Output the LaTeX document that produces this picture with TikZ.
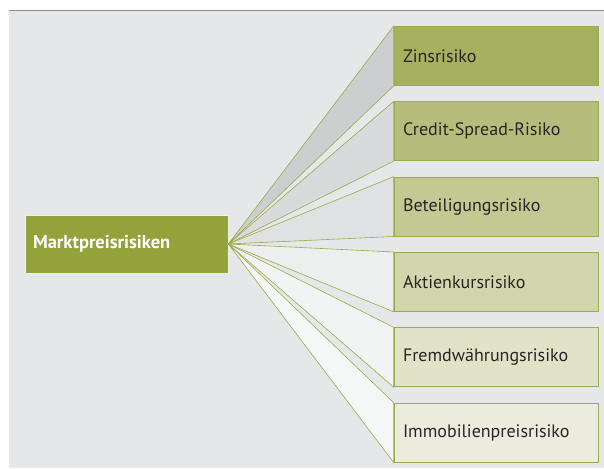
\documentclass[tikz,border=0pt]{standalone}
\usepackage{fontspec}
\setmainfont{PT Sans}
\definecolor{hg}{HTML}{E6E7E8}
\definecolor{linie}{HTML}{8C8C8C}
\definecolor{oliv}{HTML}{9DAA48}
\definecolor{markt}{HTML}{94A23A}
\definecolor{b1}{HTML}{A6B05E}
\definecolor{b2}{HTML}{B6BD7A}
\definecolor{b3}{HTML}{C4C993}
\definecolor{b4}{HTML}{D3D6AC}
\definecolor{b5}{HTML}{E1E3C6}
\definecolor{b6}{HTML}{EBECDE}
\definecolor{f1}{HTML}{CDCED0}
\definecolor{f2}{HTML}{D9DADC}
\definecolor{f3}{HTML}{E0E1E2}
\definecolor{f4}{HTML}{EDEEEE}
\definecolor{f5}{HTML}{F2F3F3}
\definecolor{f6}{HTML}{F5F6F6}

\begin{document}
\begin{tikzpicture}[x=1pt,y=-1pt]
\tikzset{
  risiko/.style={draw=oliv, line width=0.8pt, text width=186pt, inner xsep=9pt,
    minimum height=59pt, align=left, text=black!85, font=\fontsize{18}{21}\selectfont},
}
\newcommand\faecher[2]{
\path[fill=#2,draw=oliv,line width=0.6pt] (markt.east) -- (#1.north west) -- (#1.south west) -- cycle;
}
\useasboundingbox (0,0) rectangle (604,468);
\fill[hg] (9,11) rectangle (604,468);
\draw[linie,line width=1.5pt] (9,10.5) -- (604,10.5);
% Hauptknoten
\node[draw=white!85!markt, fill=markt, line width=0.8pt, text width=187pt, inner xsep=8pt,
  minimum height=58pt, align=left, text=white, font=\fontsize{18.5}{21}\selectfont\bfseries] (markt) at (126.5,244) {Marktpreisrisiken};
% Einzelrisiken
\node[risiko, fill=b1] (zins) at (496,56) {Zinsrisiko};
\node[risiko, fill=b2] (credit) at (496,131.3) {Credit-Spread-Risiko};
\node[risiko, fill=b3] (beteil) at (496,206.6) {Beteiligungsrisiko};
\node[risiko, fill=b4] (aktien) at (496,281.9) {Aktienkursrisiko};
\node[risiko, fill=b5] (fremd) at (496,357.2) {Fremdwährungsrisiko};
\node[risiko, fill=b6] (immo) at (496,432.5) {Immobilienpreisrisiko};
\faecher{zins}{f1}
\faecher{credit}{f2}
\faecher{beteil}{f3}
\faecher{aktien}{f4}
\faecher{fremd}{f5}
\faecher{immo}{f6}
\end{tikzpicture}
\end{document}
